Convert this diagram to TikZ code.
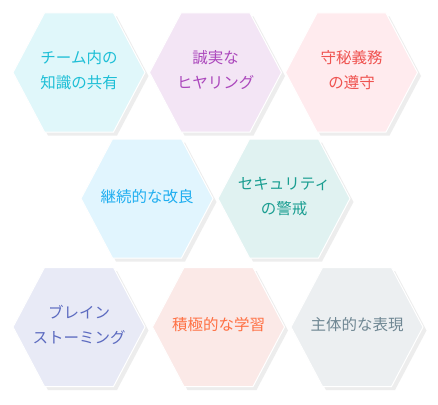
\documentclass[tikz,border=0pt]{standalone}
\usepackage{fontspec}
\setmainfont{Noto Sans CJK JP}

\definecolor{cyanbg}{HTML}{E0F7FA}\definecolor{cyantx}{HTML}{1EBFD6}
\definecolor{purbg}{HTML}{F3E5F5}\definecolor{purtx}{HTML}{AB47BC}
\definecolor{redbg}{HTML}{FFEBEE}\definecolor{redtx}{HTML}{EF5350}
\definecolor{lbluebg}{HTML}{E1F5FE}\definecolor{lbluetx}{HTML}{1FAEF0}
\definecolor{tealbg}{HTML}{E0F2F1}\definecolor{tealtx}{HTML}{1A9E91}
\definecolor{indbg}{HTML}{E8EAF6}\definecolor{indtx}{HTML}{5C6BC0}
\definecolor{orgbg}{HTML}{FBE9E7}\definecolor{orgtx}{HTML}{FF7043}
\definecolor{greybg}{HTML}{ECEFF1}\definecolor{greytx}{HTML}{6F8793}

\begin{document}
\begin{tikzpicture}[x=1pt,y=-1pt,
  hexlabel/.style={align=center,inner sep=0pt,font=\fontsize{15.5}{25}\selectfont},
  hexpath/.style={insert path={++(-66,0) -- ++(31.5,-59.5) -- ++(69,0) -- ++(31.5,59.5)
    -- ++(-31.5,59.5) -- ++(-69,0) -- cycle}}]
\useasboundingbox[fill=white] (0,0) rectangle (438,404);
% centres
\coordinate (share) at (79,72.5);
\coordinate (hear) at (215.5,72.5);
\coordinate (secret) at (351.5,72.5);
\coordinate (improve) at (147,198.5);
\coordinate (security) at (284,198.5);
\coordinate (brain) at (79,327);
\coordinate (learn) at (218.5,327);
\coordinate (express) at (357,327);
% hexagons with shadow
\foreach \n/\c in {share/cyanbg,hear/purbg,secret/redbg,improve/lbluebg,
  security/tealbg,brain/indbg,learn/orgbg,express/greybg}{
  \fill[black!7] ([shift={(3.5,3.5)}]\n) [hexpath];
  \filldraw[fill=\c,draw=white,line width=1pt] (\n) [hexpath];
}
% labels
\node[hexlabel,text=cyantx] (shareT) at ([yshift=2pt]share) {チーム内の\\知識の共有};
\node[hexlabel,text=purtx] (hearT) at ([yshift=2pt]hear) {誠実な\\ヒヤリング};
\node[hexlabel,text=redtx] (secretT) at ([yshift=2pt]secret) {守秘義務\\の遵守};
\node[hexlabel,text=lbluetx] (improveT) at ([yshift=2pt]improve) {継続的な改良};
\node[hexlabel,text=tealtx] (securityT) at ([yshift=2pt]security) {セキュリティ\\の警戒};
\node[hexlabel,text=indtx] (brainT) at ([yshift=2pt]brain) {ブレイン\\ストーミング};
\node[hexlabel,text=orgtx] (learnT) at ([yshift=2pt]learn) {積極的な学習};
\node[hexlabel,text=greytx] (expressT) at ([yshift=2pt]express) {主体的な表現};
\end{tikzpicture}
\end{document}
